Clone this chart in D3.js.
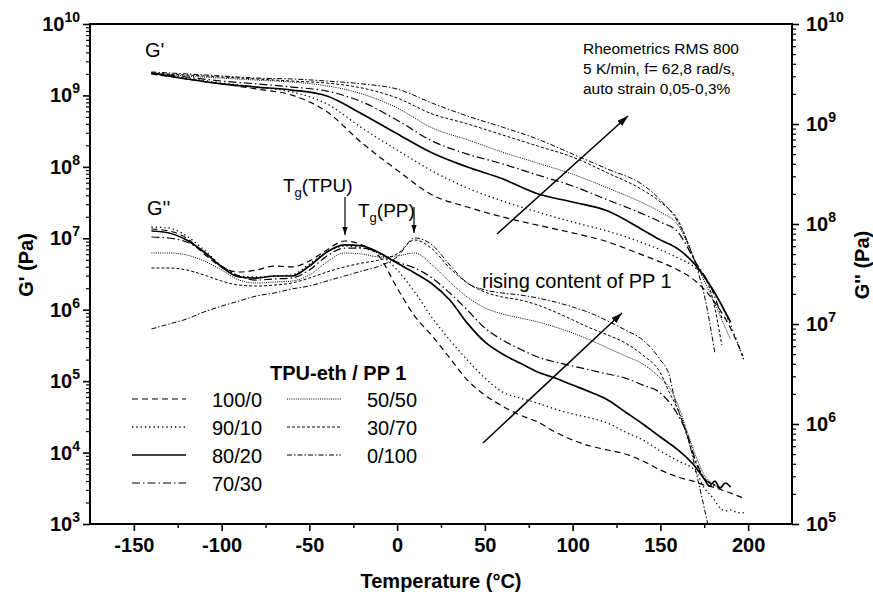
<!DOCTYPE html>
<html>
<head>
<meta charset="utf-8">
<script src="https://cdn.jsdelivr.net/npm/d3@7"></script>
<style>
  html, body { margin: 0; padding: 0; background: #fff; }
  svg text, svg tspan { font-family: "Liberation Sans", Arial, Helvetica, sans-serif; fill: #000; }
</style>
</head>
<body>
<svg id="chart" width="873" height="595"></svg>
<script>
// ---- data: TPU-eth / PP 1 blends, temperature sweep ----
const blends = ["100/0", "90/10", "80/20", "70/30", "50/50", "30/70", "0/100"];

// storage modulus G' (Pa) vs temperature (°C)
const storage_100_0 = [[-140,2.0e9],[-120,1.70e9],[-100,1.45e9],[-80,1.23e9],[-60,1.01e9],[-40,5.9e8],[-20,2.16e8],[0,9.0e7],[20,4.04e7],[40,2.74e7],[60,1.99e7],[80,1.53e7],[100,1.19e7],[120,8.9e6],[140,5.8e6],[150,4.66e6],[160,3.6e6],[170,2.52e6],[180,1.37e6],[190,5.5e5],[197,2.25e5]];
const storage_90_10 = [[-140,2.0e9],[-120,1.75e9],[-100,1.49e9],[-80,1.31e9],[-60,1.12e9],[-40,7.6e8],[-20,3.5e8],[0,1.72e8],[20,8.75e7],[40,5.06e7],[60,3.33e7],[80,2.33e7],[100,1.69e7],[120,1.26e7],[140,8.6e6],[150,6.9e6],[160,5.3e6],[170,3.84e6],[180,1.89e6],[190,6.1e5],[198,1.85e5]];
const storage_80_20 = [[-140,2.06e9],[-120,1.70e9],[-100,1.45e9],[-80,1.31e9],[-60,1.19e9],[-40,9.8e8],[-20,5.5e8],[0,2.9e8],[20,1.56e8],[40,9.95e7],[60,6.8e7],[80,4.2e7],[100,3.22e7],[120,2.41e7],[140,1.31e7],[150,9.5e6],[160,7.1e6],[170,4.23e6],[180,1.89e6],[190,6.7e5]];
const storage_70_30 = [[-140,2.06e9],[-120,1.81e9],[-100,1.59e9],[-80,1.45e9],[-60,1.31e9],[-40,1.15e9],[-20,8.1e8],[0,4.5e8],[20,2.3e8],[40,1.51e8],[60,1.10e8],[80,7.7e7],[100,5.4e7],[120,3.44e7],[140,2.19e7],[150,1.69e7],[160,1.22e7],[170,4.66e6],[180,1.77e6],[185,7.7e5]];
const storage_50_50 = [[-140,2.06e9],[-120,1.87e9],[-100,1.75e9],[-80,1.64e9],[-60,1.54e9],[-40,1.36e9],[-20,1.05e9],[0,6.7e8],[20,3.5e8],[40,2.4e8],[60,1.61e8],[80,1.13e8],[100,7.9e7],[120,5.06e7],[140,3.12e7],[150,2.33e7],[160,1.53e7],[170,4.66e6],[180,1.37e6],[190,3.8e5]];
const storage_30_70 = [[-140,2.06e9],[-120,1.93e9],[-100,1.81e9],[-80,1.70e9],[-60,1.59e9],[-40,1.49e9],[-20,1.27e9],[0,9.2e8],[20,5.5e8],[40,4.0e8],[60,2.8e8],[80,1.96e8],[100,1.37e8],[120,8.2e7],[140,4.74e7],[150,3.22e7],[160,1.80e7],[170,4.66e6],[180,1.37e6],[185,3.2e5]];
const storage_0_100 = [[-140,2.13e9],[-120,2.0e9],[-100,1.87e9],[-80,1.75e9],[-60,1.70e9],[-40,1.59e9],[-20,1.45e9],[0,1.23e9],[20,7.8e8],[40,5.15e8],[60,3.6e8],[80,2.45e8],[100,1.51e8],[120,9.3e7],[140,5.6e7],[150,3.44e7],[160,1.69e7],[170,4.37e6],[175,1.61e6],[181,2.5e5]];

// loss modulus G'' (Pa) vs temperature (°C)
const loss_100_0 = [[-140,8.91e7],[-130,8.51e7],[-120,7.24e7],[-110,5.01e7],[-100,3.72e7],[-90,3.31e7],[-80,3.47e7],[-70,3.80e7],[-60,3.72e7],[-50,4.27e7],[-40,5.50e7],[-30,6.76e7],[-20,6.17e7],[-10,4.68e7],[0,2.29e7],[10,1.20e7],[20,7.59e6],[30,4.57e6],[40,2.75e6],[50,1.95e6],[60,1.51e6],[70,1.23e6],[80,1.05e6],[90,8.32e5],[100,6.92e5],[110,6.03e5],[120,5.50e5],[130,5.01e5],[140,4.27e5],[150,3.47e5],[160,2.95e5],[170,2.63e5],[175,2.45e5],[180,2.34e5],[185,2.19e5],[190,2.04e5],[197,1.82e5]];
const loss_90_10 = [[-140,9.33e7],[-130,9.12e7],[-120,7.59e7],[-110,5.50e7],[-100,3.80e7],[-90,3.02e7],[-80,2.95e7],[-70,3.02e7],[-60,3.09e7],[-50,3.98e7],[-40,5.25e7],[-30,6.03e7],[-20,5.75e7],[-10,5.01e7],[0,3.47e7],[10,2.09e7],[20,1.15e7],[30,6.92e6],[40,4.37e6],[50,2.88e6],[60,2.09e6],[70,1.82e6],[80,1.62e6],[90,1.41e6],[100,1.26e6],[110,1.15e6],[120,1.02e6],[130,8.32e5],[140,6.92e5],[150,5.37e5],[160,4.27e5],[170,3.39e5],[175,2.29e5],[180,1.82e5],[184,1.45e5],[187,1.35e5],[190,1.38e5],[194,1.30e5],[198,1.29e5]];
const loss_80_20 = [[-140,8.51e7],[-130,8.13e7],[-120,6.92e7],[-110,5.25e7],[-100,3.72e7],[-90,2.95e7],[-80,2.88e7],[-70,3.02e7],[-60,3.02e7],[-50,3.80e7],[-40,5.25e7],[-30,6.17e7],[-20,6.03e7],[-10,5.13e7],[0,4.07e7],[10,3.24e7],[20,2.51e7],[30,1.74e7],[40,1.02e7],[50,6.61e6],[60,5.01e6],[70,4.07e6],[80,3.31e6],[90,2.88e6],[100,2.45e6],[110,2.09e6],[120,1.74e6],[130,1.32e6],[140,1.00e6],[150,7.41e5],[160,5.50e5],[170,3.72e5],[175,2.82e5],[178,2.40e5],[181,2.69e5],[184,2.29e5],[187,2.57e5],[190,2.34e5]];
const loss_70_30 = [[-140,7.41e7],[-130,7.24e7],[-120,6.61e7],[-110,5.25e7],[-100,3.80e7],[-90,3.02e7],[-80,2.75e7],[-70,2.82e7],[-60,2.88e7],[-50,3.47e7],[-40,4.79e7],[-30,5.75e7],[-20,5.75e7],[-10,5.13e7],[0,4.17e7],[10,3.63e7],[20,2.88e7],[30,2.04e7],[40,1.38e7],[50,9.12e6],[60,6.92e6],[70,5.62e6],[80,4.68e6],[90,4.17e6],[100,3.80e6],[110,3.47e6],[120,3.16e6],[130,2.88e6],[140,2.45e6],[150,2.04e6],[160,1.23e6],[165,8.13e5],[170,4.37e5],[175,2.88e5],[180,2.45e5],[185,2.29e5]];
const loss_50_50 = [[-140,5.13e7],[-130,5.13e7],[-120,4.90e7],[-110,4.27e7],[-100,3.47e7],[-90,2.75e7],[-80,2.57e7],[-70,2.63e7],[-60,2.69e7],[-50,3.09e7],[-40,4.17e7],[-30,5.13e7],[-20,5.01e7],[-10,4.68e7],[0,4.79e7],[10,5.13e7],[20,3.89e7],[30,2.63e7],[40,1.86e7],[50,1.45e7],[60,1.26e7],[70,1.15e7],[80,1.05e7],[90,9.33e6],[100,8.13e6],[110,6.92e6],[120,5.75e6],[130,4.79e6],[140,3.98e6],[150,2.88e6],[155,2.34e6],[160,1.55e6],[165,8.71e5],[170,4.90e5],[175,3.09e5],[180,2.51e5],[185,2.19e5]];
const loss_30_70 = [[-140,3.63e7],[-130,3.63e7],[-120,3.47e7],[-110,3.09e7],[-100,2.69e7],[-90,2.45e7],[-80,2.40e7],[-70,2.45e7],[-60,2.57e7],[-50,2.88e7],[-40,3.31e7],[-30,3.72e7],[-20,4.07e7],[-10,4.37e7],[0,5.01e7],[10,6.92e7],[20,5.62e7],[30,3.63e7],[40,2.57e7],[50,2.09e7],[60,1.86e7],[70,1.74e7],[80,1.55e7],[90,1.32e7],[100,1.10e7],[110,9.12e6],[120,7.76e6],[130,6.46e6],[140,4.90e6],[150,3.24e6],[155,2.09e6],[160,1.38e6],[165,7.76e5],[170,4.17e5],[175,2.88e5],[180,2.51e5],[185,2.29e5]];
const loss_0_100 = [[-140,8.91e6],[-130,1.0e7],[-120,1.12e7],[-110,1.32e7],[-100,1.51e7],[-90,1.70e7],[-80,1.91e7],[-70,2.04e7],[-60,2.24e7],[-50,2.40e7],[-40,2.69e7],[-30,3.02e7],[-20,3.39e7],[-10,3.80e7],[0,4.68e7],[10,7.24e7],[20,6.17e7],[30,3.89e7],[40,2.57e7],[50,2.19e7],[60,2.04e7],[70,1.95e7],[80,1.82e7],[90,1.66e7],[100,1.48e7],[110,1.29e7],[120,1.07e7],[130,8.71e6],[140,6.92e6],[150,4.37e6],[155,3.09e6],[158,1.82e6],[165,8.13e5],[171,2.95e5],[177,1.0e5]];

const storageSeries = [storage_100_0, storage_90_10, storage_80_20, storage_70_30, storage_50_50, storage_30_70, storage_0_100];
const lossSeries = [loss_100_0, loss_90_10, loss_80_20, loss_70_30, loss_50_50, loss_30_70, loss_0_100];

// axis ticks
const tempTicks = [-150, -100, -50, 0, 50, 100, 150, 200];
const tempMinorTicks = [-125, -75, -25, 25, 75, 125, 175];
const leftDecades = [3, 4, 5, 6, 7, 8, 9, 10];
const rightDecades = [5, 6, 7, 8, 9, 10];

// line style per blend
const lineStyles = [
  { dash: "6,4",          width: 1.2 },  // 100/0
  { dash: "1.3,3",        width: 1.3 },  // 90/10
  { dash: null,           width: 1.7 },  // 80/20
  { dash: "8,3,1.5,3",    width: 1.2 },  // 70/30
  { dash: "1,1.2",        width: 1.0 },  // 50/50
  { dash: "3,2",          width: 1.0 },  // 30/70
  { dash: "5,2,1.5,2",    width: 1.0 }   // 0/100
];

// ---- layout ----
const L = 90, R = 792, T = 24, B = 524;
const svg = d3.select("#chart");

const x = d3.scaleLinear().domain([-175, 225]).range([L, R]);
const yLeft = d3.scaleLog().domain([1e3, 1e10]).range([B, T]);
const yRight = d3.scaleLog().domain([1e5, 1e10]).range([B, T]);

const defs = svg.append("defs");
defs.append("clipPath").attr("id", "plotArea")
  .append("rect").attr("x", L).attr("y", T).attr("width", R - L).attr("height", B - T);

function addArrowMarker(id, len, half) {
  defs.append("marker")
    .attr("id", id)
    .attr("viewBox", `0 0 ${len} ${half * 2}`)
    .attr("refX", len).attr("refY", half)
    .attr("markerWidth", len).attr("markerHeight", half * 2)
    .attr("markerUnits", "userSpaceOnUse")
    .attr("orient", "auto")
    .append("path")
    .attr("d", `M0,0 L${len},${half} L0,${half * 2} Z`)
    .attr("fill", "#000");
}
addArrowMarker("headBig", 11, 3.5);
addArrowMarker("headSmall", 8, 2.6);

// ---- curves ----
const curves = svg.append("g").attr("clip-path", "url(#plotArea)");
function drawSeries(list, yScale) {
  const gen = d3.line()
    .x(d => x(d[0]))
    .y(d => yScale(d[1]))
    .curve(d3.curveMonotoneX);
  list.forEach((data, i) => {
    const st = lineStyles[i];
    curves.append("path")
      .attr("d", gen(data))
      .attr("fill", "none")
      .attr("stroke", "#000")
      .attr("stroke-width", st.width)
      .attr("stroke-dasharray", st.dash);
  });
}
drawSeries(storageSeries, yLeft);
drawSeries(lossSeries, yRight);

// ---- axes ----
const tickFont = 20;

const xAxis = svg.append("g").attr("transform", `translate(0,${B})`)
  .call(d3.axisBottom(x).tickValues(tempTicks).tickSize(7).tickPadding(7).tickSizeOuter(0)
    .tickFormat(d => String(d)));
xAxis.select(".domain").remove();
xAxis.selectAll("line").attr("stroke", "#000").attr("stroke-width", 1.6);
xAxis.selectAll("text").attr("font-size", tickFont).attr("font-weight", "bold")
  .attr("font-family", "'Liberation Sans', Arial, sans-serif").attr("fill", "#000");

const xMinor = svg.append("g").attr("transform", `translate(0,${B})`)
  .call(d3.axisBottom(x).tickValues(tempMinorTicks).tickSize(4).tickSizeOuter(0).tickFormat(""));
xMinor.select(".domain").remove();
xMinor.selectAll("line").attr("stroke", "#000").attr("stroke-width", 1.4);

function logTicks(decades) {
  const minor = [];
  for (let i = 0; i < decades.length - 1; i++) {
    for (let k = 2; k <= 9; k++) minor.push(k * Math.pow(10, decades[i]));
  }
  return minor;
}

function logAxis(scale, decades, side) {
  const majors = decades.map(e => Math.pow(10, e));
  const axisFn = side === "left" ? d3.axisLeft : d3.axisRight;
  const xPos = side === "left" ? L : R;
  const gMaj = svg.append("g").attr("transform", `translate(${xPos},0)`)
    .call(axisFn(scale).tickValues(majors).tickSize(7).tickSizeOuter(0).tickFormat(""));
  gMaj.select(".domain").remove();
  gMaj.selectAll("line").attr("stroke", "#000").attr("stroke-width", 1.6);
  const gMin = svg.append("g").attr("transform", `translate(${xPos},0)`)
    .call(axisFn(scale).tickValues(logTicks(decades)).tickSize(4).tickSizeOuter(0).tickFormat(""));
  gMin.select(".domain").remove();
  gMin.selectAll("line").attr("stroke", "#000").attr("stroke-width", 1.2);

  // power-of-ten labels
  decades.forEach(e => {
    const t = svg.append("text")
      .attr("x", side === "left" ? 80 : 806)
      .attr("y", scale(Math.pow(10, e)) + 7)
      .attr("text-anchor", side === "left" ? "end" : "start")
      .attr("font-size", tickFont)
      .attr("font-weight", "bold");
    t.append("tspan").attr("fill", "#000").text("10");
    t.append("tspan").attr("dy", -9).attr("font-size", 14).attr("fill", "#000").text(String(e));
  });
}
logAxis(yLeft, leftDecades, "left");
logAxis(yRight, rightDecades, "right");

// frame
svg.append("rect").attr("x", L).attr("y", T).attr("width", R - L).attr("height", B - T)
  .attr("fill", "none").attr("stroke", "#000").attr("stroke-width", 2);

// axis titles
svg.append("text").attr("x", (L + R) / 2).attr("y", 588).attr("text-anchor", "middle")
  .attr("font-size", 20).attr("font-weight", "bold").text("Temperature (°C)");
svg.append("text").attr("transform", "translate(33,265) rotate(-90)").attr("text-anchor", "middle")
  .attr("font-size", 20).attr("font-weight", "bold").text("G' (Pa)");
svg.append("text").attr("transform", "translate(869,265) rotate(-90)").attr("text-anchor", "middle")
  .attr("font-size", 20).attr("font-weight", "bold").text("G'' (Pa)");

// ---- annotations ----
svg.append("text").attr("x", 145).attr("y", 57).attr("font-size", 20).text("G'");
svg.append("text").attr("x", 147).attr("y", 215).attr("font-size", 20).text("G''");

function tgLabel(px, py, what) {
  const t = svg.append("text").attr("x", px).attr("y", py).attr("font-size", 19);
  t.append("tspan").attr("fill", "#000").text("T");
  t.append("tspan").attr("dy", 5).attr("font-size", 13).attr("fill", "#000").text("g");
  t.append("tspan").attr("dy", -5).attr("fill", "#000").text(`(${what})`);
}
tgLabel(283, 192, "TPU");
tgLabel(358, 217, "PP");

function arrow(x1, y1, x2, y2, marker, w) {
  svg.append("line").attr("x1", x1).attr("y1", y1).attr("x2", x2).attr("y2", y2)
    .attr("stroke", "#000").attr("stroke-width", w).attr("marker-end", `url(#${marker})`);
}
arrow(345, 197, 345, 235, "headSmall", 1.2);
arrow(414, 207, 414, 233, "headSmall", 1.2);
arrow(497, 234, 628, 116, "headBig", 1.5);
arrow(483, 443, 622, 313, "headBig", 1.5);

svg.append("text").attr("x", 482).attr("y", 288).attr("font-size", 20).text("rising content of PP 1");

const infoLines = ["Rheometrics RMS 800", "5 K/min, f= 62,8 rad/s,", "auto strain 0,05-0,3%"];
infoLines.forEach((s, i) => {
  svg.append("text").attr("x", 583).attr("y", 54 + i * 20).attr("font-size", 15.5).text(s);
});

// ---- legend ----
svg.append("text").attr("x", 270).attr("y", 380).attr("font-size", 20).attr("font-weight", "bold")
  .text("TPU-eth / PP 1");
blends.forEach((b, i) => {
  const col = i < 4 ? 0 : 1;
  const row = i < 4 ? i : i - 4;
  const lx = col === 0 ? 132 : 287;
  const ly = 399 + row * 28;
  const st = lineStyles[i];
  svg.append("line").attr("x1", lx).attr("x2", lx + 54).attr("y1", ly).attr("y2", ly)
    .attr("stroke", "#000").attr("stroke-width", st.width).attr("stroke-dasharray", st.dash);
  svg.append("text").attr("x", lx + 80).attr("y", ly + 8).attr("font-size", 20).text(b);
});
</script>
</body>
</html>
